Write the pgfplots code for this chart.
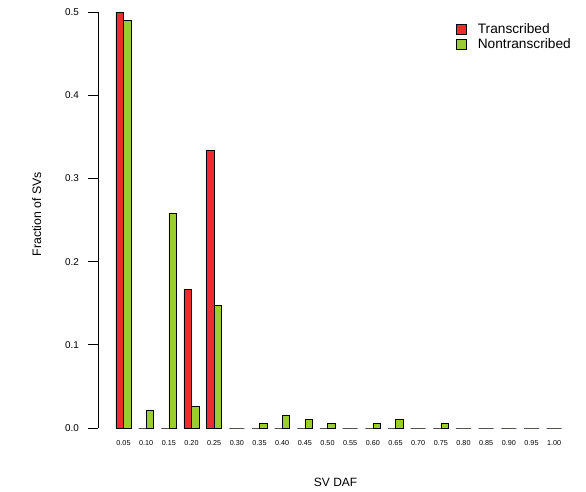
\documentclass[border=0pt]{standalone}
\usepackage{pgfplots}
\pgfplotsset{compat=1.18}
\usepackage{fontspec}
\setmainfont{Liberation Sans}
\definecolor{tred}{HTML}{EE2C2C}
\definecolor{ngreen}{HTML}{9ACD32}
\pgfplotstableread{
x t n
0 0.5 0.4895
1 0 0.0211
2 0 0.2579
3 0.1667 0.0263
4 0.3333 0.1474
5 0 0
6 0 0.0053
7 0 0.0158
8 0 0.0105
9 0 0.0053
10 0 0
11 0 0.0053
12 0 0.0105
13 0 0
14 0 0.0053
15 0 0
16 0 0
17 0 0
18 0 0
19 0 0
}\datatable
\begin{document}
\begin{tikzpicture}
\useasboundingbox (0,0) rectangle (586pt,491pt);
\begin{axis}[
  at={(98pt,63pt)}, anchor=south west,
  scale only axis, width=465pt, height=416pt,
  xmin=-1.125, xmax=19.39, ymin=0, ymax=0.5,
  clip=false,
  axis x line*=bottom, axis y line*=left,
  x axis line style={draw=none},
  y axis line style={-, line width=0.8pt},
  ybar=0pt, bar width=0.3333,
  xtick={0,...,19},
  xticklabels={0.05,0.10,0.15,0.20,0.25,0.30,0.35,0.40,0.45,0.50,0.55,0.60,0.65,0.70,0.75,0.80,0.85,0.90,0.95,1.00},
  xtick style={draw=none},
  xticklabel style={font=\fontsize{7.2}{8}\selectfont, anchor=center, yshift=-5pt},
  ytick={0,0.1,0.2,0.3,0.4,0.5},
  yticklabels={0.0,0.1,0.2,0.3,0.4,0.5},
  ytick style={line width=0.8pt, black},
  tick align=outside, major tick length=10pt,
  yticklabel style={font=\fontsize{9.9}{11}\selectfont, anchor=east, inner sep=0pt, xshift=-9pt},
  /pgf/number format/assume math mode=true,
  xlabel={SV DAF}, ylabel={Fraction of SVs},
  xlabel style={font=\fontsize{12}{14}\selectfont, at={(rel axis cs:0.511,-0.13)}, anchor=center},
  ylabel style={font=\fontsize{12.3}{14}\selectfont, at={(rel axis cs:-0.132,0.514)}, anchor=center},
  legend style={draw=none, fill=none, at={(rel axis cs:0.770,0.976)}, anchor=north west,
    font=\fontsize{13.7}{15}\selectfont, inner sep=0pt, row sep=2pt,
    nodes={inner sep=1pt},
    /tikz/every odd column/.append style={column sep=10pt}},
  legend cell align=left,
  legend image code/.code={\draw[#1, line width=0.6pt] (0pt,-5pt) rectangle (10pt,5pt);},
]
\addplot[fill=tred, draw=black, line width=0.6pt] table[x=x, y=t] {\datatable};
\addplot[fill=ngreen, draw=black, line width=0.6pt] table[x=x, y=n] {\datatable};
\legend{Transcribed, Nontranscribed}
\end{axis}
\end{tikzpicture}
\end{document}
